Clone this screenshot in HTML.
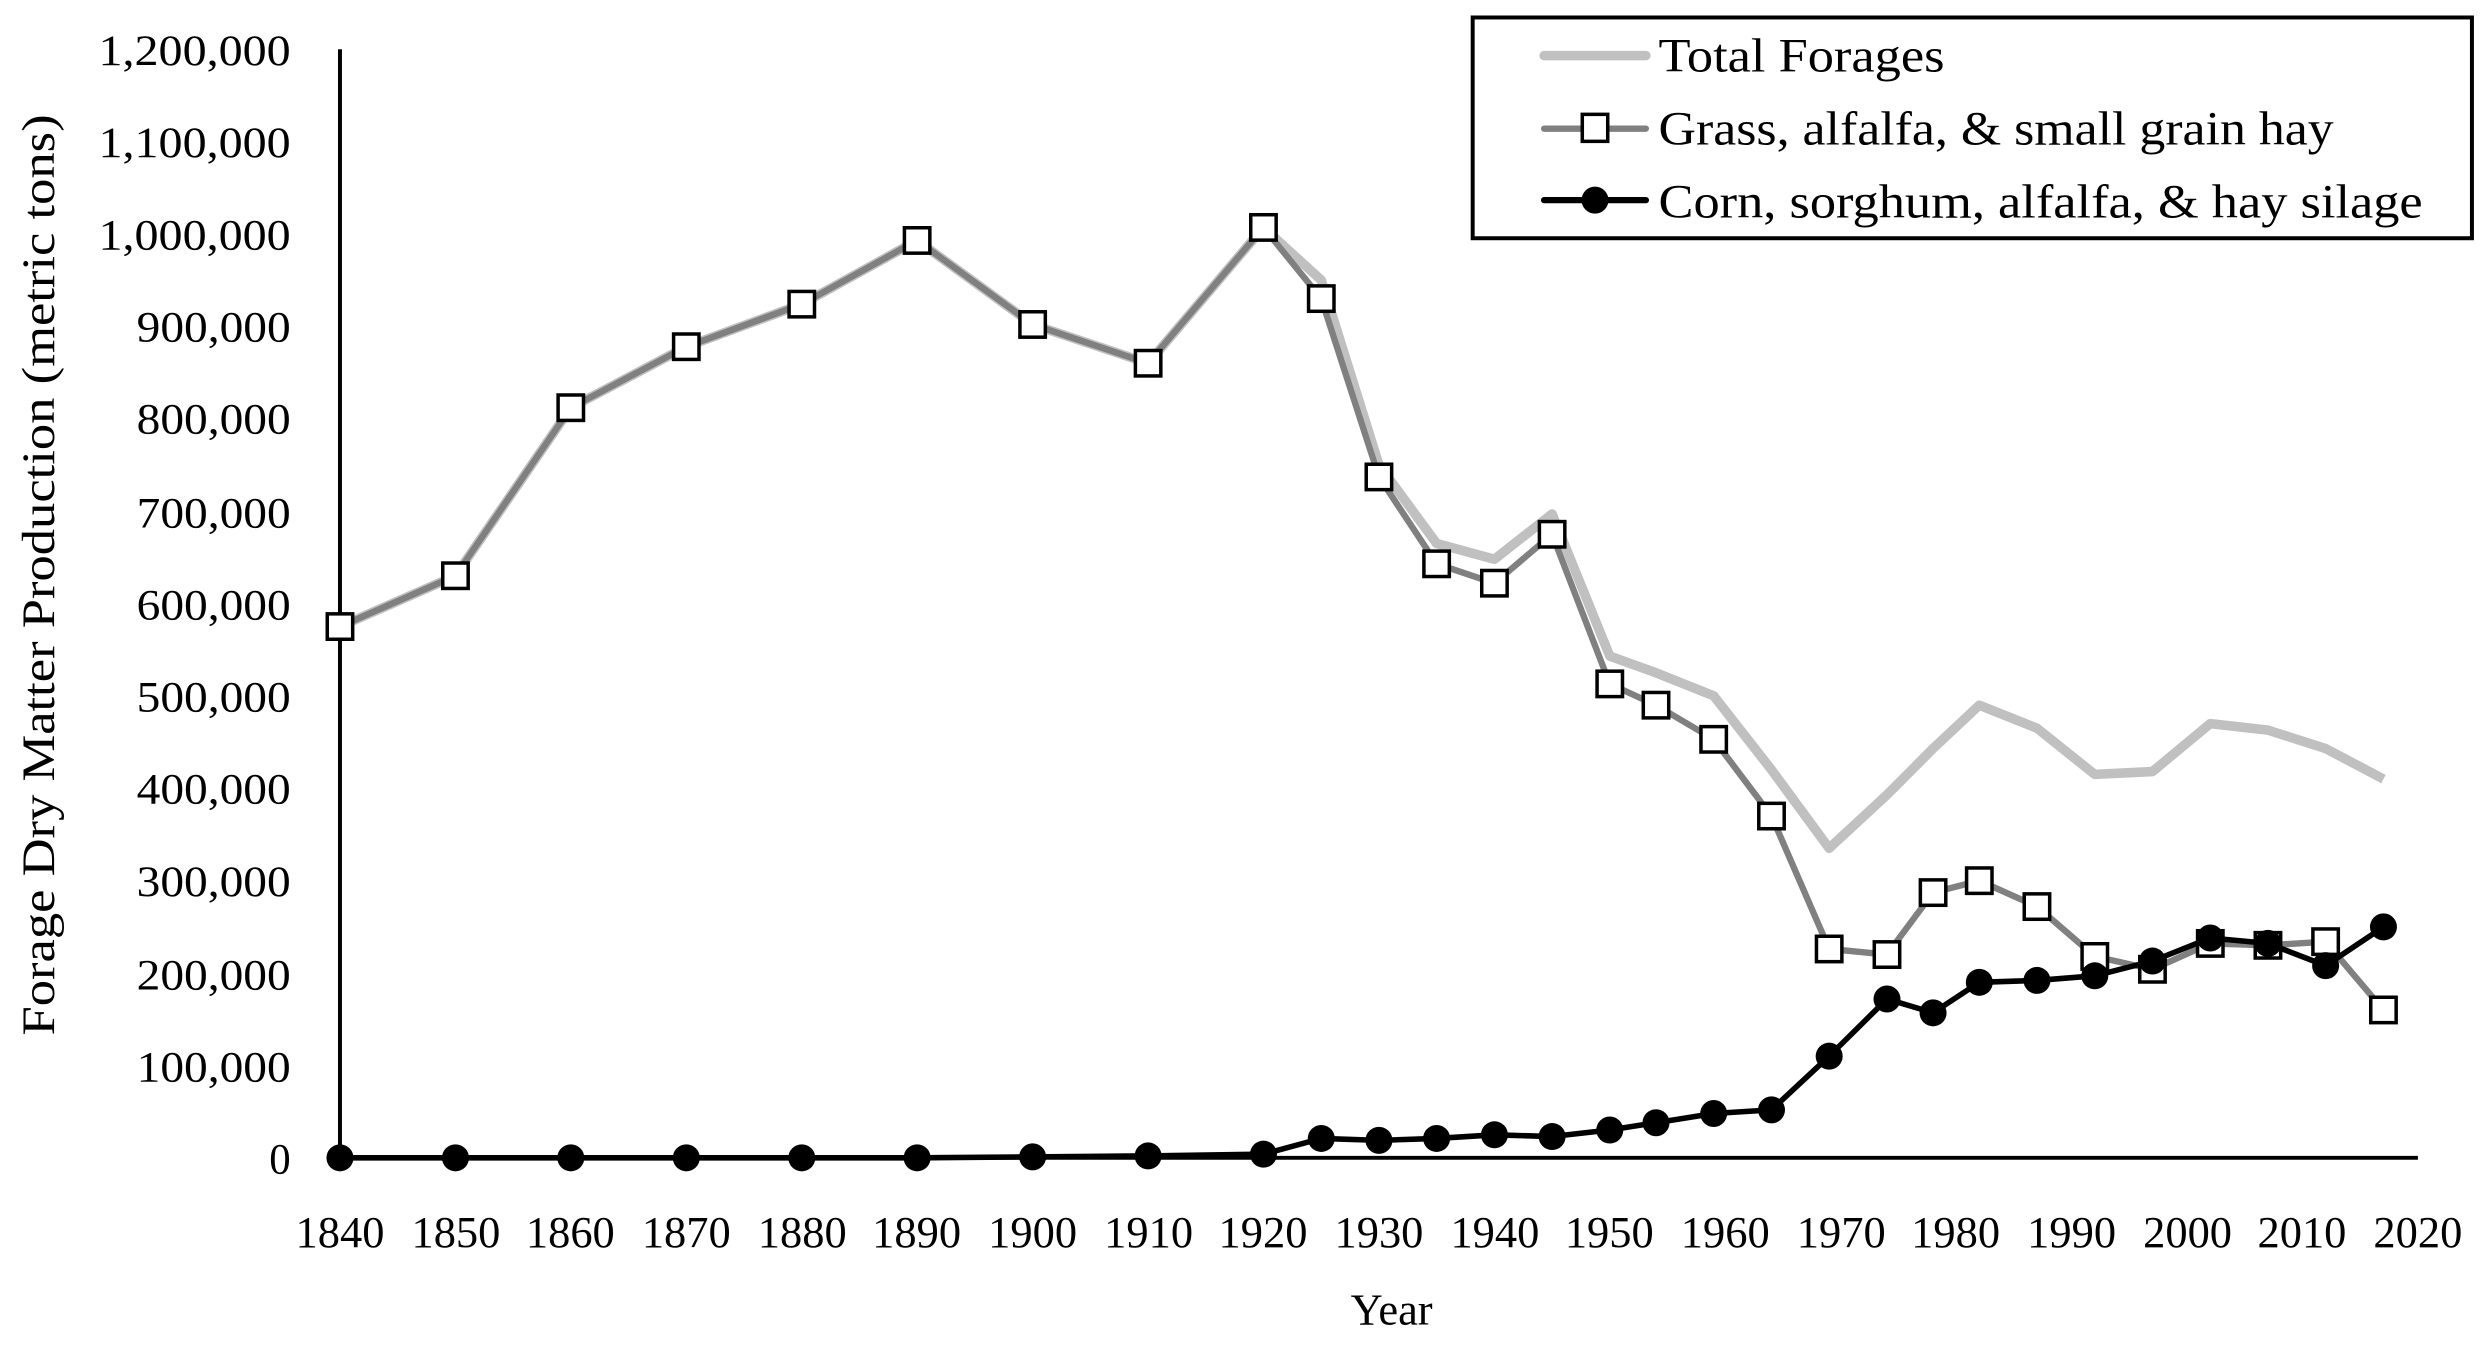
<!DOCTYPE html>
<html><head><meta charset="utf-8"><style>
html,body{margin:0;padding:0;background:#fff;}
svg{display:block;}
text{font-family:"Liberation Serif",serif;fill:#000;}
</style></head><body>
<svg width="2491" height="1350" viewBox="0 0 1568 850" preserveAspectRatio="none" xmlns="http://www.w3.org/2000/svg">
<rect width="1568" height="850" fill="#fff"/>
<line x1="214" y1="31" x2="214" y2="729" stroke="#000" stroke-width="2.5"/>
<line x1="214" y1="729" x2="1522" y2="729" stroke="#000" stroke-width="2.5"/>
<g font-size="27" text-anchor="end" lengthAdjust="spacingAndGlyphs">
<text x="183" y="739">0</text>
<text x="183" y="681" textLength="97" lengthAdjust="spacingAndGlyphs">100,000</text>
<text x="183" y="623" textLength="97" lengthAdjust="spacingAndGlyphs">200,000</text>
<text x="183" y="564" textLength="97" lengthAdjust="spacingAndGlyphs">300,000</text>
<text x="183" y="506" textLength="97" lengthAdjust="spacingAndGlyphs">400,000</text>
<text x="183" y="448" textLength="97" lengthAdjust="spacingAndGlyphs">500,000</text>
<text x="183" y="390" textLength="97" lengthAdjust="spacingAndGlyphs">600,000</text>
<text x="183" y="332" textLength="97" lengthAdjust="spacingAndGlyphs">700,000</text>
<text x="183" y="273" textLength="97" lengthAdjust="spacingAndGlyphs">800,000</text>
<text x="183" y="215" textLength="97" lengthAdjust="spacingAndGlyphs">900,000</text>
<text x="183" y="157" textLength="121" lengthAdjust="spacingAndGlyphs">1,000,000</text>
<text x="183" y="99" textLength="121" lengthAdjust="spacingAndGlyphs">1,100,000</text>
<text x="183" y="41" textLength="121" lengthAdjust="spacingAndGlyphs">1,200,000</text>
</g>
<g font-size="28" text-anchor="middle">
<text x="214" y="785">1840</text><text x="287" y="785">1850</text><text x="359" y="785">1860</text><text x="432" y="785">1870</text><text x="505" y="785">1880</text><text x="577" y="785">1890</text><text x="650" y="785">1900</text><text x="723" y="785">1910</text><text x="795" y="785">1920</text><text x="868" y="785">1930</text><text x="941" y="785">1940</text><text x="1013" y="785">1950</text><text x="1086" y="785">1960</text><text x="1159" y="785">1970</text><text x="1231" y="785">1980</text><text x="1304" y="785">1990</text><text x="1377" y="785">2000</text><text x="1449" y="785">2010</text><text x="1522" y="785">2020</text>
</g>
<text x="876" y="834" font-size="28" text-anchor="middle">Year</text>
<text transform="translate(34,362) rotate(-90)" font-size="29" text-anchor="middle" textLength="580" lengthAdjust="spacingAndGlyphs">Forage Dry Matter Production (metric tons)</text>
<polyline fill="none" stroke="#c0c0c0" stroke-width="6" stroke-linejoin="round" points="214,394.5 286.7,362.5 359.3,256.7 432,218.3 504.7,191.5 577.3,151.4 650,204.3 722.7,228.7 795.3,143.2 831.7,176.4 868,292.7 904.3,342.2 940.7,352.1 977,323.6 1013.3,413.1 1042.4,423.6 1078.7,438.1 1115.1,484.7 1151.4,534.1 1187.8,500.4 1216.8,471.3 1245.9,444 1282.2,458.5 1318.6,487.6 1354.9,485.8 1391.3,455.6 1427.6,459.7 1463.9,471.3 1500.3,490.5"/>
<polyline fill="none" stroke="#808080" stroke-width="4" stroke-linejoin="round" points="214,394.5 286.7,362.5 359.3,256.7 432,218.3 504.7,191.5 577.3,151.4 650,204.3 722.7,228.7 795.3,143.2 831.7,188 868,300.3 904.3,355 940.7,367.2 977,336.4 1013.3,430.6 1042.4,444 1078.7,465.5 1115.1,513.8 1151.4,597.5 1187.8,601 1216.8,562 1245.9,554.5 1282.2,570.8 1318.6,602.2 1354.9,610.3 1391.3,594 1427.6,595.2 1463.9,592.9 1500.3,635.9"/>
<g fill="#fff" stroke="#000" stroke-width="2.2">
<rect x="206" y="386.5" width="16" height="16"/><rect x="278.7" y="354.5" width="16" height="16"/><rect x="351.3" y="248.7" width="16" height="16"/><rect x="424" y="210.3" width="16" height="16"/><rect x="496.7" y="183.5" width="16" height="16"/><rect x="569.3" y="143.4" width="16" height="16"/><rect x="642" y="196.3" width="16" height="16"/><rect x="714.7" y="220.7" width="16" height="16"/><rect x="787.3" y="135.2" width="16" height="16"/><rect x="823.7" y="180" width="16" height="16"/><rect x="860" y="292.3" width="16" height="16"/><rect x="896.3" y="347" width="16" height="16"/><rect x="932.7" y="359.2" width="16" height="16"/><rect x="969" y="328.4" width="16" height="16"/><rect x="1005.3" y="422.6" width="16" height="16"/><rect x="1034.4" y="436" width="16" height="16"/><rect x="1070.7" y="457.5" width="16" height="16"/><rect x="1107.1" y="505.8" width="16" height="16"/><rect x="1143.4" y="589.5" width="16" height="16"/><rect x="1179.8" y="593" width="16" height="16"/><rect x="1208.8" y="554" width="16" height="16"/><rect x="1237.9" y="546.5" width="16" height="16"/><rect x="1274.2" y="562.8" width="16" height="16"/><rect x="1310.6" y="594.2" width="16" height="16"/><rect x="1346.9" y="602.3" width="16" height="16"/><rect x="1383.3" y="586" width="16" height="16"/><rect x="1419.6" y="587.2" width="16" height="16"/><rect x="1455.9" y="584.9" width="16" height="16"/><rect x="1492.3" y="627.9" width="16" height="16"/>
</g>
<polyline fill="none" stroke="#000" stroke-width="3.5" stroke-linejoin="round" points="214,729 286.7,729 359.3,729 432,729 504.7,729 577.3,729 650,728.4 722.7,727.8 795.3,726.7 831.7,716.8 868,718 904.3,716.8 940.7,714.5 977,715.6 1013.3,711.5 1042.4,706.9 1078.7,701.1 1115.1,698.8 1151.4,665 1187.8,629 1216.8,637.7 1245.9,618.5 1282.2,617.3 1318.6,614.4 1354.9,605.1 1391.3,590.6 1427.6,594 1463.9,608 1500.3,583.6"/>
<g fill="#000">
<circle cx="214" cy="729" r="8.5"/><circle cx="286.7" cy="729" r="8.5"/><circle cx="359.3" cy="729" r="8.5"/><circle cx="432" cy="729" r="8.5"/><circle cx="504.7" cy="729" r="8.5"/><circle cx="577.3" cy="729" r="8.5"/><circle cx="650" cy="728.4" r="8.5"/><circle cx="722.7" cy="727.8" r="8.5"/><circle cx="795.3" cy="726.7" r="8.5"/><circle cx="831.7" cy="716.8" r="8.5"/><circle cx="868" cy="718" r="8.5"/><circle cx="904.3" cy="716.8" r="8.5"/><circle cx="940.7" cy="714.5" r="8.5"/><circle cx="977" cy="715.6" r="8.5"/><circle cx="1013.3" cy="711.5" r="8.5"/><circle cx="1042.4" cy="706.9" r="8.5"/><circle cx="1078.7" cy="701.1" r="8.5"/><circle cx="1115.1" cy="698.8" r="8.5"/><circle cx="1151.4" cy="665" r="8.5"/><circle cx="1187.8" cy="629" r="8.5"/><circle cx="1216.8" cy="637.7" r="8.5"/><circle cx="1245.9" cy="618.5" r="8.5"/><circle cx="1282.2" cy="617.3" r="8.5"/><circle cx="1318.6" cy="614.4" r="8.5"/><circle cx="1354.9" cy="605.1" r="8.5"/><circle cx="1391.3" cy="590.6" r="8.5"/><circle cx="1427.6" cy="594" r="8.5"/><circle cx="1463.9" cy="608" r="8.5"/><circle cx="1500.3" cy="583.6" r="8.5"/>
</g>
<rect x="927" y="11" width="629" height="139" fill="#fff" stroke="#000" stroke-width="2.5"/>
<line x1="972" y1="35" x2="1036" y2="35" stroke="#c0c0c0" stroke-width="6" stroke-linecap="round"/>
<line x1="972" y1="81" x2="1036" y2="81" stroke="#808080" stroke-width="4" stroke-linecap="round"/>
<rect x="996" y="72" width="16" height="17" fill="#fff" stroke="#000" stroke-width="2.2"/>
<line x1="972" y1="126" x2="1036" y2="126" stroke="#000" stroke-width="4" stroke-linecap="round"/>
<circle cx="1004" cy="126" r="8.5" fill="#000"/>
<g font-size="30">
<text x="1044" y="45" textLength="180" lengthAdjust="spacingAndGlyphs">Total Forages</text>
<text x="1044" y="91" textLength="425" lengthAdjust="spacingAndGlyphs">Grass, alfalfa, &amp; small grain hay</text>
<text x="1044" y="137" textLength="481" lengthAdjust="spacingAndGlyphs">Corn, sorghum, alfalfa, &amp; hay silage</text>
</g>
</svg>
</body></html>
